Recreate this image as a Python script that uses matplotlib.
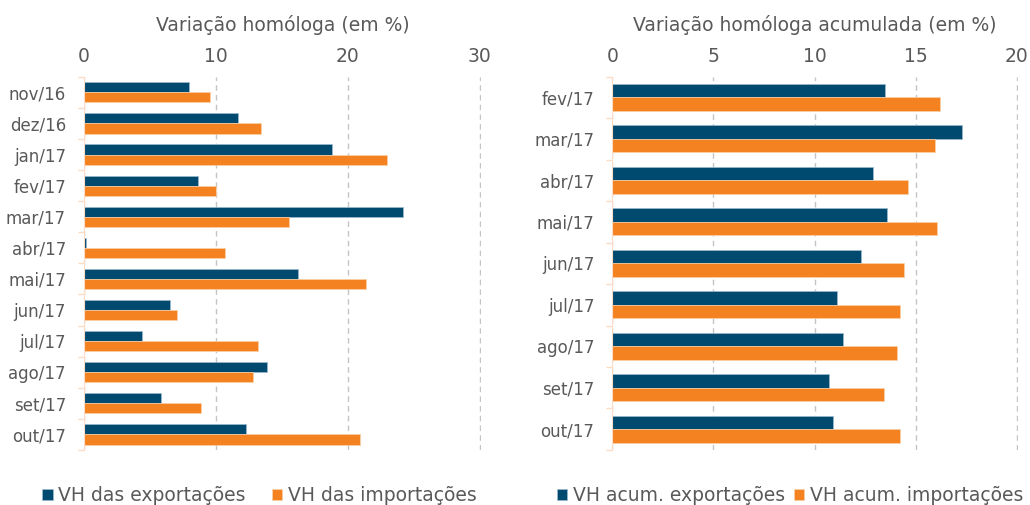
import matplotlib.pyplot as plt
import numpy as np

plt.rcParams['font.family'] = ['DejaVu Sans']

# left panel: monthly year-on-year change
meses_l = ['nov/16', 'dez/16', 'jan/17', 'fev/17', 'mar/17', 'abr/17',
           'mai/17', 'jun/17', 'jul/17', 'ago/17', 'set/17', 'out/17']
exp_l = [7.96, 11.64, 18.8, 8.66, 24.2, 0.15, 16.2, 6.5, 4.43, 13.9, 5.87, 12.3]
imp_l = [9.52, 13.4, 23.0, 9.97, 15.5, 10.7, 21.4, 7.05, 13.2, 12.8, 8.87, 20.9]

# right panel: cumulative year-on-year change
meses_r = ['fev/17', 'mar/17', 'abr/17', 'mai/17', 'jun/17',
           'jul/17', 'ago/17', 'set/17', 'out/17']
exp_r = [13.49, 17.3, 12.88, 13.57, 12.29, 11.09, 11.38, 10.72, 10.89]
imp_r = [16.2, 15.93, 14.61, 16.03, 14.41, 14.23, 14.07, 13.45, 14.22]

blue = '#004A70'
orange = '#F58220'
grey = '#595959'


def draw_panel(ax, cats, exp, imp, xmax, step, title, labels, leg_x, colsp):
    y = np.arange(len(cats))
    h = 0.325
    ax.barh(y - h / 2, exp, height=h, color=blue, edgecolor='#9DBBD0',
            linewidth=0.5, label=labels[0])
    ax.barh(y + h / 2, imp, height=h, color=orange, edgecolor='#FAD0A8',
            linewidth=0.5, label=labels[1])
    ax.set_xlim(0, xmax * 1.003)
    ax.set_ylim(len(cats) - 0.5, -0.5)
    ax.set_xticks(np.arange(0, xmax + 0.1, step))
    ax.xaxis.tick_top()
    ax.xaxis.set_label_position('top')
    ax.set_xlabel(title, fontsize=13.5, color=grey, labelpad=11)
    ax.tick_params(axis='x', length=0, labelsize=13.5, labelcolor=grey, pad=8)
    ax.set_yticks(y)
    ax.set_yticklabels(cats)
    ax.tick_params(axis='y', which='major', length=0, labelsize=12,
                   labelcolor=grey, pad=13)
    ax.set_yticks(np.arange(len(cats) + 1) - 0.5, minor=True)
    ax.tick_params(axis='y', which='minor', length=4, color='#FCDCC4', width=1)
    ax.grid(axis='x', linestyle=(0, (4, 3)), color='#C4C4C4', linewidth=1)
    ax.set_axisbelow(True)
    for s in ['top', 'right', 'bottom']:
        ax.spines[s].set_visible(False)
    ax.spines['left'].set_color('#FCDCC4')
    ax.legend(loc='center', bbox_to_anchor=(leg_x, -0.122), ncol=2,
              frameon=False, fontsize=13.5, labelcolor=grey,
              handlelength=0.55, handleheight=0.55, handletextpad=0.3,
              columnspacing=colsp, borderpad=0.1)


fig = plt.figure(figsize=(10.3, 5.05), dpi=100)
ax1 = fig.add_axes([0.0816, 0.109, 0.3854, 0.739])
ax2 = fig.add_axes([0.5945, 0.109, 0.394, 0.739])

draw_panel(ax1, meses_l, exp_l, imp_l, 30, 10, 'Variação homóloga (em %)',
           ['VH das exportações', 'VH das importações'], 0.442, 1.4)
draw_panel(ax2, meses_r, exp_r, imp_r, 20, 5,
           'Variação homóloga acumulada (em %)',
           ['VH acum. exportações', 'VH acum. importações'], 0.438, 0.5)

fig.savefig('out.png', dpi=100)
